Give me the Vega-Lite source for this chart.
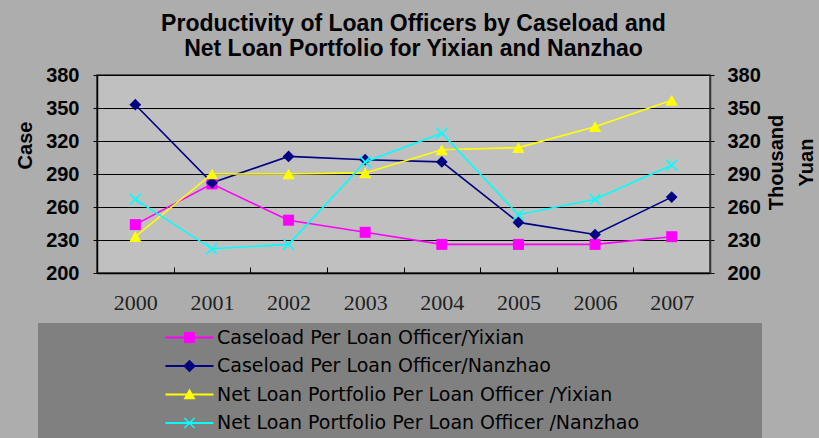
{
  "$schema": "https://vega.github.io/schema/vega-lite/v6.json",
  "width": 613,
  "height": 198,
  "autosize": {"type": "none"},
  "padding": {"left": 97, "top": 75, "right": 109, "bottom": 165},
  "background": "#ADADAD",
  "title": {
    "text": ["Productivity of Loan Officers by Caseload and", "Net Loan Portfolio for Yixian and Nanzhao"],
    "font": "Liberation Sans",
    "fontSize": 23,
    "fontWeight": "bold",
    "color": "#000000",
    "anchor": "middle",
    "frame": "group",
    "dx": 10,
    "dy": 27,
    "lineHeight": 25,
    "baseline": "bottom",
    "offset": 8
  },
  "config": {
    "view": {"stroke": "#333333", "strokeWidth": 1.5, "fill": "#C0C0C0"}
  },
  "data": {
    "values": [
      {"year": "2000", "series": "Caseload Per Loan Officer/Yixian", "value": 244},
      {"year": "2001", "series": "Caseload Per Loan Officer/Yixian", "value": 281},
      {"year": "2002", "series": "Caseload Per Loan Officer/Yixian", "value": 248},
      {"year": "2003", "series": "Caseload Per Loan Officer/Yixian", "value": 237},
      {"year": "2004", "series": "Caseload Per Loan Officer/Yixian", "value": 226},
      {"year": "2005", "series": "Caseload Per Loan Officer/Yixian", "value": 226},
      {"year": "2006", "series": "Caseload Per Loan Officer/Yixian", "value": 226},
      {"year": "2007", "series": "Caseload Per Loan Officer/Yixian", "value": 233},
      {"year": "2000", "series": "Caseload Per Loan Officer/Nanzhao", "value": 353},
      {"year": "2001", "series": "Caseload Per Loan Officer/Nanzhao", "value": 282},
      {"year": "2002", "series": "Caseload Per Loan Officer/Nanzhao", "value": 306},
      {"year": "2003", "series": "Caseload Per Loan Officer/Nanzhao", "value": 303},
      {"year": "2004", "series": "Caseload Per Loan Officer/Nanzhao", "value": 301},
      {"year": "2005", "series": "Caseload Per Loan Officer/Nanzhao", "value": 246},
      {"year": "2006", "series": "Caseload Per Loan Officer/Nanzhao", "value": 235},
      {"year": "2007", "series": "Caseload Per Loan Officer/Nanzhao", "value": 269},
      {"year": "2000", "series": "Net Loan Portfolio Per Loan Officer /Yixian", "value": 233},
      {"year": "2001", "series": "Net Loan Portfolio Per Loan Officer /Yixian", "value": 290},
      {"year": "2002", "series": "Net Loan Portfolio Per Loan Officer /Yixian", "value": 290},
      {"year": "2003", "series": "Net Loan Portfolio Per Loan Officer /Yixian", "value": 291},
      {"year": "2004", "series": "Net Loan Portfolio Per Loan Officer /Yixian", "value": 312},
      {"year": "2005", "series": "Net Loan Portfolio Per Loan Officer /Yixian", "value": 314},
      {"year": "2006", "series": "Net Loan Portfolio Per Loan Officer /Yixian", "value": 333},
      {"year": "2007", "series": "Net Loan Portfolio Per Loan Officer /Yixian", "value": 357},
      {"year": "2000", "series": "Net Loan Portfolio Per Loan Officer /Nanzhao", "value": 267},
      {"year": "2001", "series": "Net Loan Portfolio Per Loan Officer /Nanzhao", "value": 222},
      {"year": "2002", "series": "Net Loan Portfolio Per Loan Officer /Nanzhao", "value": 226},
      {"year": "2003", "series": "Net Loan Portfolio Per Loan Officer /Nanzhao", "value": 301},
      {"year": "2004", "series": "Net Loan Portfolio Per Loan Officer /Nanzhao", "value": 327},
      {"year": "2005", "series": "Net Loan Portfolio Per Loan Officer /Nanzhao", "value": 253},
      {"year": "2006", "series": "Net Loan Portfolio Per Loan Officer /Nanzhao", "value": 267},
      {"year": "2007", "series": "Net Loan Portfolio Per Loan Officer /Nanzhao", "value": 298}
    ]
  },
  "encoding": {
    "x": {
      "field": "year",
      "type": "ordinal",
      "bandPosition": 0.5,
      "scale": {"type": "band", "paddingInner": 0, "paddingOuter": 0},
      "axis": {
        "title": null,
        "labelAngle": 0,
        "labelFont": "Liberation Serif",
        "labelFontSize": 22,
        "labelFontWeight": "normal",
        "labelColor": "#222222",
        "tickBand": "extent",
        "tickSize": -6,
        "tickColor": "#000000",
        "tickWidth": 1,
        "domainColor": "#000000",
        "domainWidth": 1.5,
        "labelPadding": 25,
        "grid": false
      }
    }
  },
  "layer": [
    {
      "transform": [{"filter": {"field": "series", "oneOf": ["Caseload Per Loan Officer/Yixian", "Caseload Per Loan Officer/Nanzhao"]}}],
      "encoding": {
        "y": {
          "field": "value",
          "type": "quantitative",
          "scale": {"domain": [200, 380], "nice": false, "zero": false},
          "axis": {
            "orient": "left",
            "values": [200, 230, 260, 290, 320, 350, 380],
            "title": "Case",
            "titleFont": "Liberation Sans",
            "titleFontSize": 20,
            "titleFontWeight": "bold",
            "titleColor": "#000000",
            "titleAngle": 270,
            "titleBaseline": "middle",
            "titleAlign": "center",
            "titleX": -72,
            "titleY": 70,
            "labelFont": "Liberation Sans",
            "labelFontSize": 20,
            "labelFontWeight": "bold",
            "labelColor": "#000000",
            "labelPadding": 14,
            "tickSize": 4,
            "tickColor": "#000000",
            "domainColor": "#000000",
            "domainWidth": 1.5,
            "grid": true,
            "gridColor": "#000000",
            "gridWidth": 1,
            "gridOpacity": 1
          }
        },
        "color": {
          "field": "series",
          "type": "nominal",
          "scale": {
            "domain": ["Caseload Per Loan Officer/Yixian", "Caseload Per Loan Officer/Nanzhao", "Net Loan Portfolio Per Loan Officer /Yixian", "Net Loan Portfolio Per Loan Officer /Nanzhao"],
            "range": ["#FF00FF", "#000080", "#FFFF00", "#00FFFF"]
          },
          "legend": null
        }
      },
      "layer": [
        {"mark": {"type": "line", "strokeWidth": 1.6}},
        {
          "mark": {"type": "point", "filled": true, "opacity": 1},
          "encoding": {
            "shape": {
              "field": "series",
              "type": "nominal",
              "scale": {
                "domain": ["Caseload Per Loan Officer/Yixian", "Caseload Per Loan Officer/Nanzhao", "Net Loan Portfolio Per Loan Officer /Yixian", "Net Loan Portfolio Per Loan Officer /Nanzhao"],
                "range": ["square", "diamond", "triangle-up", "M-0.764,-0.933L0,-0.17L0.764,-0.933L0.933,-0.764L0.17,0L0.933,0.764L0.764,0.933L0,0.17L-0.764,0.933L-0.933,0.764L-0.17,0L-0.933,-0.764Z"]
              },
              "legend": null
            },
            "size": {
              "field": "series",
              "type": "ordinal",
              "scale": {
                "domain": ["Caseload Per Loan Officer/Yixian", "Caseload Per Loan Officer/Nanzhao", "Net Loan Portfolio Per Loan Officer /Yixian", "Net Loan Portfolio Per Loan Officer /Nanzhao"],
                "range": [121, 169, 196, 196]
              },
              "legend": null
            }
          }
        }
      ]
    },
    {
      "transform": [{"filter": {"field": "series", "oneOf": ["Net Loan Portfolio Per Loan Officer /Yixian", "Net Loan Portfolio Per Loan Officer /Nanzhao"]}}],
      "encoding": {
        "y": {
          "field": "value",
          "type": "quantitative",
          "scale": {"domain": [200, 380], "nice": false, "zero": false},
          "axis": {
            "orient": "right",
            "values": [200, 230, 260, 290, 320, 350, 380],
            "title": ["Thousand", "Yuan"],
            "titleFont": "Liberation Sans",
            "titleFontSize": 20,
            "titleFontWeight": "bold",
            "titleColor": "#000000",
            "titleAngle": 270,
            "titleBaseline": "middle",
            "titleAlign": "center",
            "titleLineHeight": 30,
            "titleX": 66,
            "titleY": 87,
            "labelFont": "Liberation Sans",
            "labelFontSize": 20,
            "labelFontWeight": "bold",
            "labelColor": "#000000",
            "labelPadding": 13,
            "tickSize": 4,
            "tickColor": "#000000",
            "domainColor": "#333333",
            "domainWidth": 1.5,
            "grid": false
          }
        },
        "color": {
          "field": "series",
          "type": "nominal",
          "scale": {
            "domain": ["Caseload Per Loan Officer/Yixian", "Caseload Per Loan Officer/Nanzhao", "Net Loan Portfolio Per Loan Officer /Yixian", "Net Loan Portfolio Per Loan Officer /Nanzhao"],
            "range": ["#FF00FF", "#000080", "#FFFF00", "#00FFFF"]
          },
          "legend": null
        }
      },
      "layer": [
        {"mark": {"type": "line", "strokeWidth": 1.6}},
        {
          "mark": {"type": "point", "filled": true, "opacity": 1},
          "encoding": {
            "shape": {
              "field": "series",
              "type": "nominal",
              "scale": {
                "domain": ["Caseload Per Loan Officer/Yixian", "Caseload Per Loan Officer/Nanzhao", "Net Loan Portfolio Per Loan Officer /Yixian", "Net Loan Portfolio Per Loan Officer /Nanzhao"],
                "range": ["square", "diamond", "triangle-up", "M-0.764,-0.933L0,-0.17L0.764,-0.933L0.933,-0.764L0.17,0L0.933,0.764L0.764,0.933L0,0.17L-0.764,0.933L-0.933,0.764L-0.17,0L-0.933,-0.764Z"]
              },
              "legend": null
            },
            "size": {
              "field": "series",
              "type": "ordinal",
              "scale": {
                "domain": ["Caseload Per Loan Officer/Yixian", "Caseload Per Loan Officer/Nanzhao", "Net Loan Portfolio Per Loan Officer /Yixian", "Net Loan Portfolio Per Loan Officer /Nanzhao"],
                "range": [121, 169, 196, 196]
              },
              "legend": null
            }
          }
        }
      ]
    },
    {
      "mark": {"type": "point", "filled": true, "opacity": 0},
      "encoding": {
        "y": {
          "field": "value",
          "type": "quantitative",
          "scale": {"domain": [200, 380], "nice": false, "zero": false},
          "axis": null
        },
        "color": {
          "field": "series",
          "type": "nominal",
          "scale": {
            "domain": ["Caseload Per Loan Officer/Yixian", "Caseload Per Loan Officer/Nanzhao", "Net Loan Portfolio Per Loan Officer /Yixian", "Net Loan Portfolio Per Loan Officer /Nanzhao"],
            "range": ["#FF00FF", "#000080", "#FFFF00", "#00FFFF"]
          },
          "legend": {
            "orient": "none",
            "legendX": -59,
            "legendY": 248,
            "title": "\u00a0",
            "titleOrient": "right",
            "titlePadding": 118,
            "titleFontSize": 2,
            "fillColor": "#808080",
            "padding": 5,
            "symbolSize": 144,
            "symbolStrokeWidth": 0,
            "symbolOpacity": 1,
            "symbolOffset": 137,
            "labelOffset": 18,
            "labelFont": "DejaVu Sans",
            "labelFontSize": 19,
            "labelColor": "#000000",
            "labelLimit": 700,
            "labelBaseline": "middle",
            "rowPadding": 8.5
          }
        },
        "shape": {
          "field": "series",
          "type": "nominal",
          "scale": {
            "domain": ["Caseload Per Loan Officer/Yixian", "Caseload Per Loan Officer/Nanzhao", "Net Loan Portfolio Per Loan Officer /Yixian", "Net Loan Portfolio Per Loan Officer /Nanzhao"],
            "range": [
              "M-4,-0.17H4V0.17H-4Z M-0.9,-0.9H0.9V0.9H-0.9Z",
              "M-4,-0.17H4V0.17H-4Z M0,-1.05L1.05,0L0,1.05L-1.05,0Z",
              "M-4,-0.17H4V0.17H-4Z M0,-1L1,0.8H-1Z",
              "M-4,-0.17H4V0.17H-4Z M-0.764,-0.933L0,-0.17L0.764,-0.933L0.933,-0.764L0.17,0L0.933,0.764L0.764,0.933L0,0.17L-0.764,0.933L-0.933,0.764L-0.17,0L-0.933,-0.764Z"
            ]
          },
          "legend": {
            "orient": "none",
            "legendX": -59,
            "legendY": 248,
            "title": "\u00a0",
            "titleOrient": "right",
            "titlePadding": 118,
            "titleFontSize": 2,
            "fillColor": "#808080",
            "padding": 5,
            "symbolSize": 144,
            "symbolStrokeWidth": 0,
            "symbolOpacity": 1,
            "symbolOffset": 137,
            "labelOffset": 18,
            "labelFont": "DejaVu Sans",
            "labelFontSize": 19,
            "labelColor": "#000000",
            "labelLimit": 700,
            "labelBaseline": "middle",
            "rowPadding": 8.5
          }
        }
      }
    }
  ],
  "resolve": {
    "scale": {"y": "independent", "shape": "independent", "color": "independent"},
    "legend": {"color": "independent", "shape": "independent"}
  }
}
